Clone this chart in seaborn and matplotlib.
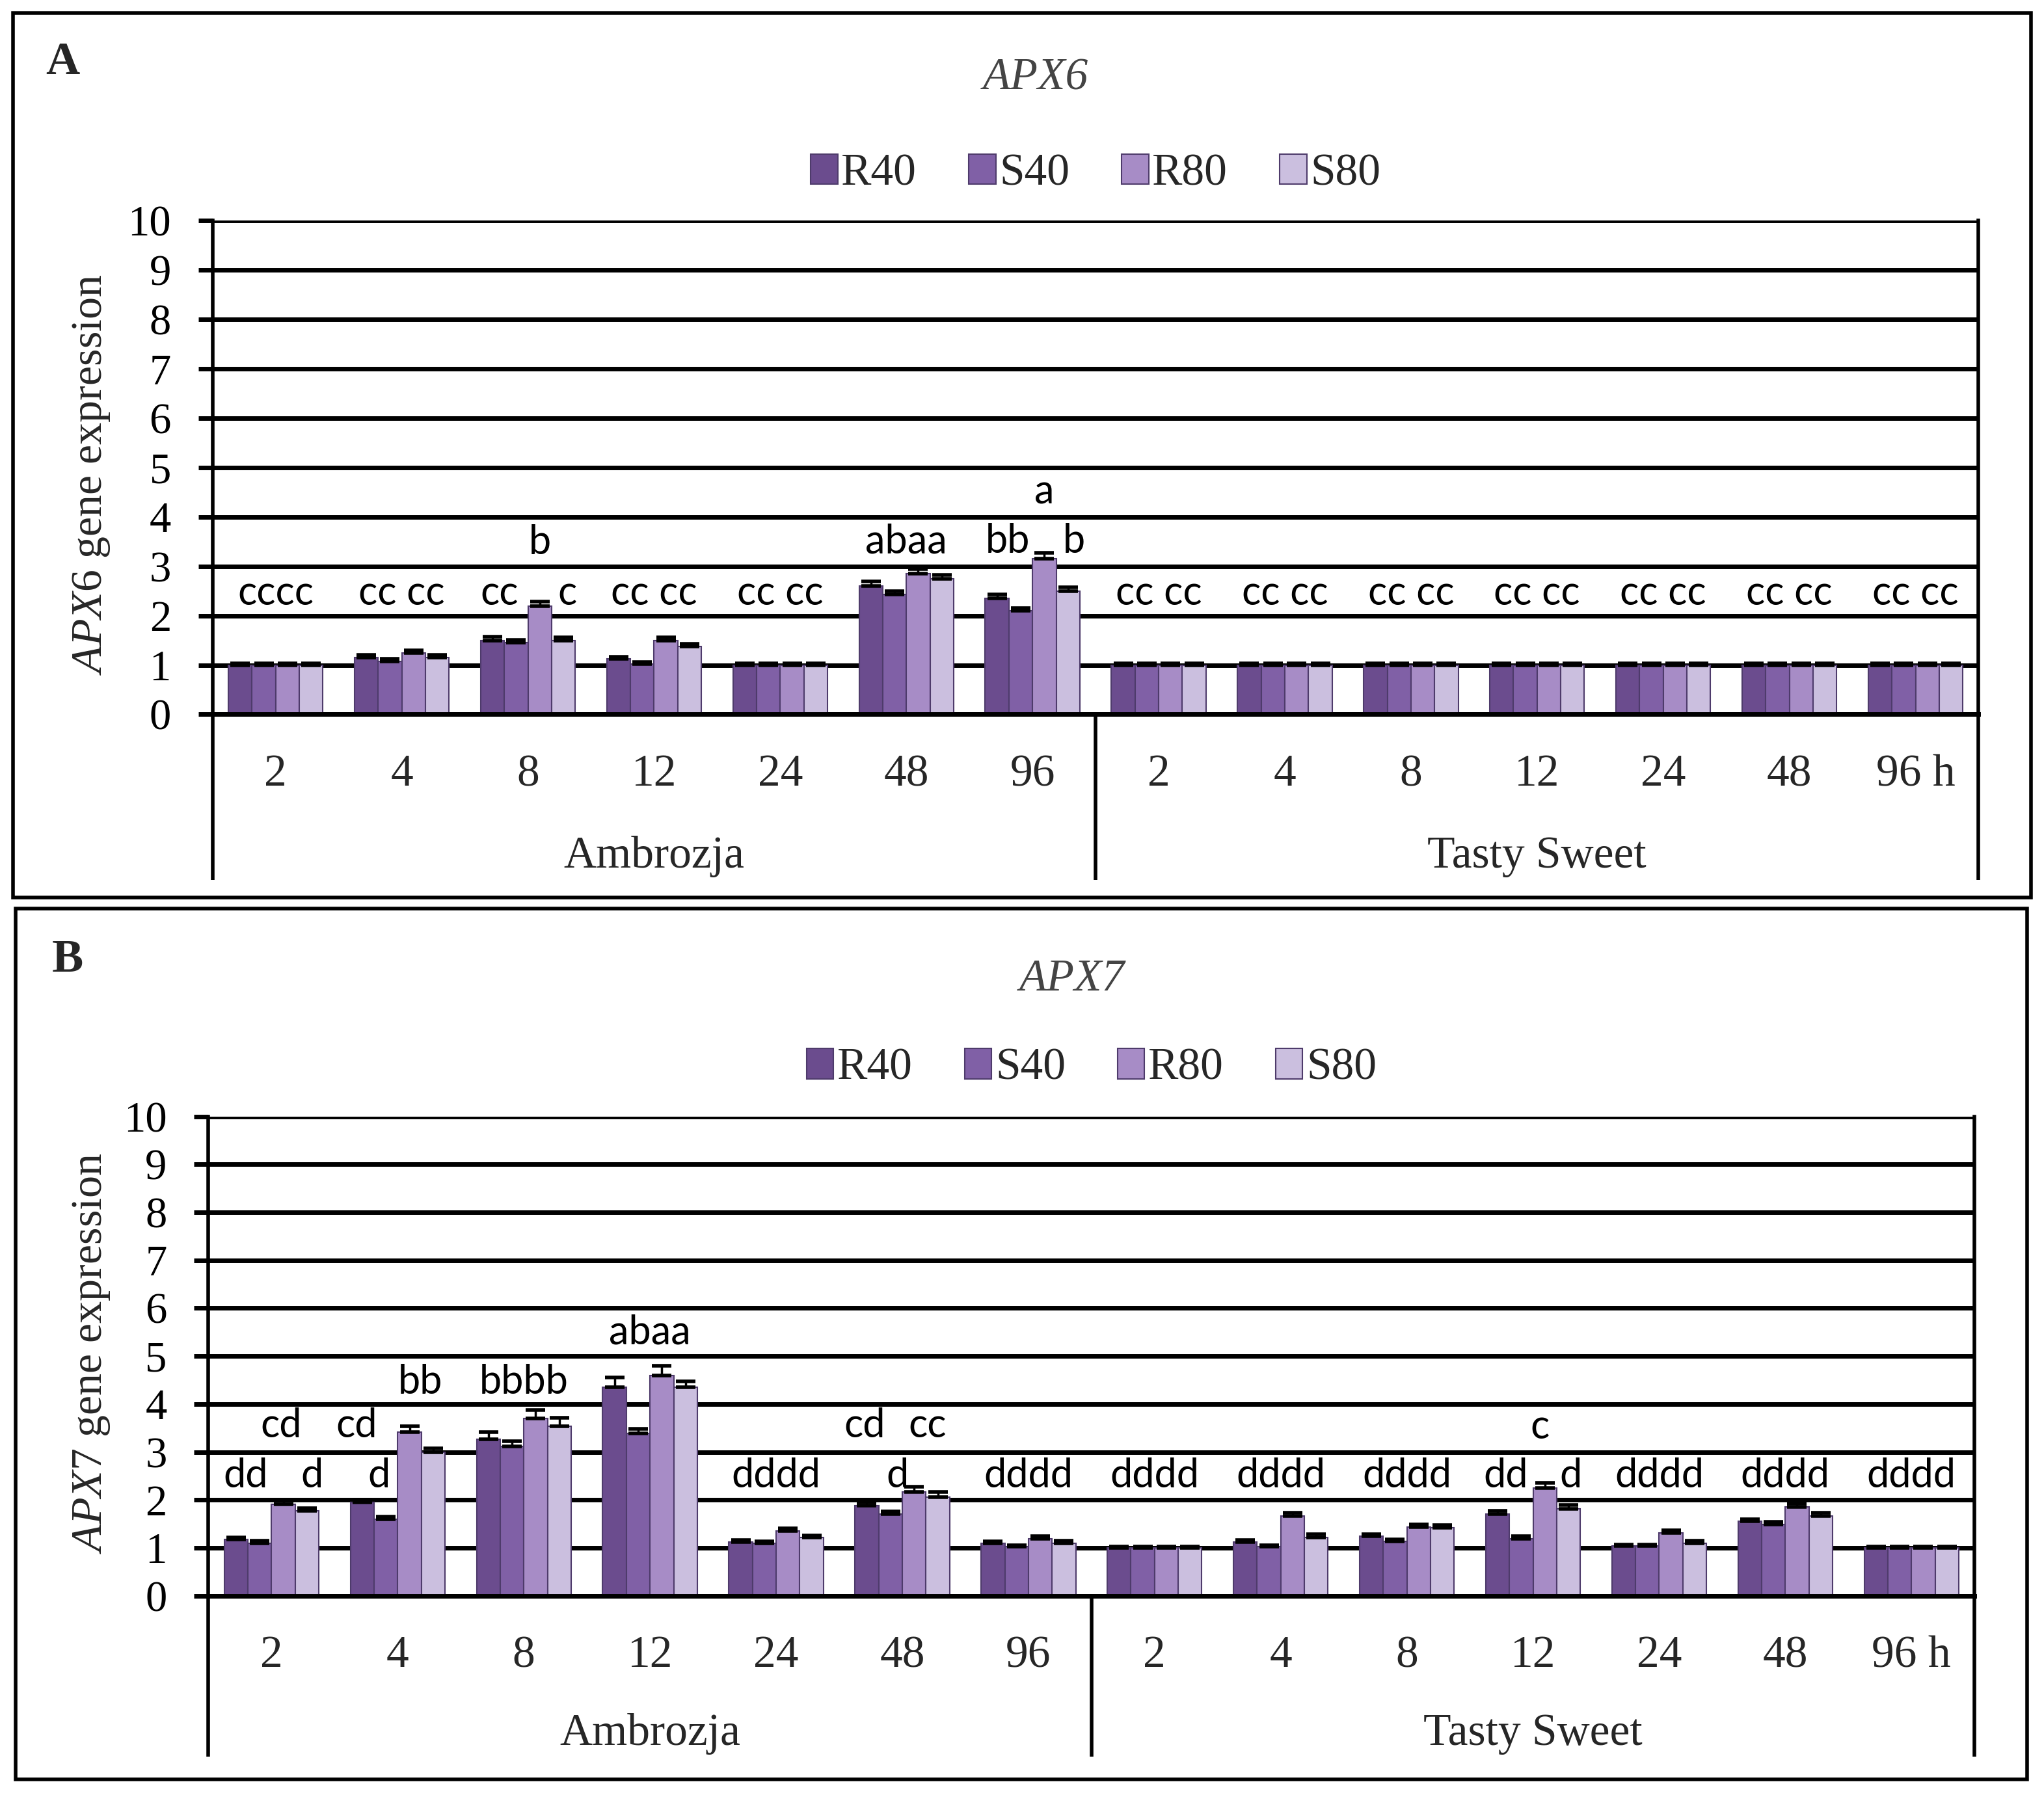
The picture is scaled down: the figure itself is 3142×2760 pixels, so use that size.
import matplotlib
matplotlib.use("Agg")
import matplotlib.pyplot as plt
import matplotlib.transforms as mtransforms
from matplotlib.patches import Rectangle
import numpy as np
import pandas as pd
import seaborn as sns

hours = ["2", "4", "8", "12", "24", "48", "96"]
cultivars = ["Ambrozja", "Tasty Sweet"]
treatments = ["R40", "S40", "R80", "S80"]
bar_colors = ["#6b4c8e", "#8060a6", "#a78cc6", "#cbbfdf"]

# values: 7 Ambrozja hours, then 7 Tasty Sweet hours
apx6_r40 = [1.0, 1.15, 1.50, 1.12, 1.0, 2.60, 2.35, 1.0, 1.0, 1.0, 1.0, 1.0, 1.0, 1.0]
apx6_s40 = [1.0, 1.08, 1.45, 1.02, 1.0, 2.43, 2.10, 1.0, 1.0, 1.0, 1.0, 1.0, 1.0, 1.0]
apx6_r80 = [1.0, 1.25, 2.20, 1.50, 1.0, 2.85, 3.15, 1.0, 1.0, 1.0, 1.0, 1.0, 1.0, 1.0]
apx6_s80 = [1.0, 1.15, 1.50, 1.38, 1.0, 2.75, 2.50, 1.0, 1.0, 1.0, 1.0, 1.0, 1.0, 1.0]
apx6_err_r40 = [0.04, 0.05, 0.07, 0.05, 0.04, 0.09, 0.08, 0.03, 0.03, 0.03, 0.03, 0.03, 0.03, 0.03]
apx6_err_s40 = [0.04, 0.04, 0.06, 0.04, 0.04, 0.07, 0.06, 0.03, 0.03, 0.03, 0.03, 0.03, 0.03, 0.03]
apx6_err_r80 = [0.04, 0.05, 0.08, 0.06, 0.04, 0.10, 0.13, 0.03, 0.03, 0.03, 0.03, 0.03, 0.03, 0.03]
apx6_err_s80 = [0.04, 0.05, 0.06, 0.05, 0.04, 0.08, 0.08, 0.03, 0.03, 0.03, 0.03, 0.03, 0.03, 0.03]

apx7_r40 = [1.17, 1.95, 3.27, 4.35, 1.12, 1.88, 1.10, 1.0, 1.12, 1.24, 1.71, 1.04, 1.55, 1.0]
apx7_s40 = [1.10, 1.59, 3.12, 3.39, 1.10, 1.70, 1.02, 1.0, 1.02, 1.13, 1.19, 1.04, 1.49, 1.0]
apx7_r80 = [1.91, 3.41, 3.70, 4.60, 1.35, 2.17, 1.19, 1.0, 1.67, 1.44, 2.25, 1.31, 1.85, 1.0]
apx7_s80 = [1.77, 3.00, 3.54, 4.35, 1.21, 2.06, 1.10, 1.0, 1.22, 1.42, 1.82, 1.10, 1.67, 1.0]
apx7_err_r40 = [0.05, 0.06, 0.15, 0.20, 0.04, 0.07, 0.04, 0.03, 0.04, 0.05, 0.06, 0.03, 0.05, 0.03]
apx7_err_s40 = [0.05, 0.06, 0.11, 0.09, 0.04, 0.06, 0.04, 0.03, 0.03, 0.05, 0.05, 0.03, 0.05, 0.03]
apx7_err_r80 = [0.06, 0.13, 0.18, 0.20, 0.05, 0.11, 0.05, 0.03, 0.06, 0.05, 0.10, 0.06, 0.07, 0.03]
apx7_err_s80 = [0.06, 0.08, 0.18, 0.12, 0.05, 0.10, 0.05, 0.03, 0.06, 0.05, 0.08, 0.05, 0.06, 0.03]

# significance letters: (slot index, text, baseline height, offset in bar widths)
apx6_letters = [
    (0, "cccc", 2.22, 0), (1, "cc cc", 2.22, 0),
    (2, "cc", 2.22, -1.2), (2, "b", 3.25, 0.5), (2, "c", 2.22, 1.65),
    (3, "cc cc", 2.22, 0), (4, "cc cc", 2.22, 0), (5, "abaa", 3.27, 0),
    (6, "bb", 3.27, -1.05), (6, "a", 4.27, 0.5), (6, "b", 3.27, 1.75),
    (7, "cc cc", 2.22, 0), (8, "cc cc", 2.22, 0), (9, "cc cc", 2.22, 0),
    (10, "cc cc", 2.22, 0), (11, "cc cc", 2.22, 0), (12, "cc cc", 2.22, 0),
    (13, "cc cc", 2.22, 0),
]
apx7_letters = [
    (0, "dd", 2.26, -1.1), (0, "cd", 3.30, 0.4), (0, "d", 2.26, 1.7),
    (1, "cd", 3.30, -1.75), (1, "d", 2.26, -0.8), (1, "bb", 4.22, 0.95),
    (2, "bbbb", 4.22, 0), (3, "abaa", 5.26, 0), (4, "dddd", 2.26, 0),
    (5, "cd", 3.30, -1.6), (5, "d", 2.26, -0.2), (5, "cc", 3.30, 1.05),
    (6, "dddd", 2.26, 0), (7, "dddd", 2.26, 0), (8, "dddd", 2.26, 0),
    (9, "dddd", 2.26, 0),
    (10, "dd", 2.26, -1.15), (10, "c", 3.28, 0.3), (10, "d", 2.26, 1.6),
    (11, "dddd", 2.26, 0), (12, "dddd", 2.26, 0), (13, "dddd", 2.26, 0),
]

sns.set_theme(style="white")
plt.rcParams["font.family"] = ["Liberation Serif", "DejaVu Serif"]
plt.rcParams["mathtext.fontset"] = "custom"
plt.rcParams["mathtext.rm"] = "Liberation Serif"
plt.rcParams["mathtext.it"] = "Liberation Serif:italic"
letter_font = ["Lato", "DejaVu Sans"]


def make_frame(series, errs):
    rows = []
    for t, vals, ers in zip(treatments, series, errs):
        for i, (v, e) in enumerate(zip(vals, ers)):
            cult = cultivars[i // len(hours)]
            rows.append({"slot": f"{cult} {hours[i % len(hours)]}", "treatment": t,
                         "value": v, "err": e})
    return pd.DataFrame(rows)


def draw_panel(ax, df, letters, gene, legend_y, title_x, title_y):
    slots = list(dict.fromkeys(df["slot"]))
    sns.barplot(data=df, x="slot", y="value", hue="treatment", order=slots,
                hue_order=treatments, palette=bar_colors, edgecolor="#4e3b6b",
                linewidth=1.5, width=0.75, errorbar=None, saturation=1, ax=ax)
    for cont, t in zip(ax.containers, treatments):
        xs = [p.get_x() + p.get_width() / 2 for p in cont]
        hs = [p.get_height() for p in cont]
        err = df.loc[df["treatment"] == t, "err"].to_numpy()
        ax.errorbar(xs, hs, yerr=[np.zeros_like(err), err], fmt="none",
                    ecolor="black", elinewidth=2.5, capsize=11, capthick=4, zorder=4)

    barw = ax.containers[0][0].get_width()
    for idx, txt, yv, off in letters:
        ax.text(idx + off * barw, yv, txt, ha="center", va="baseline",
                fontsize=44, family=letter_font, color="black")

    ax.set_ylim(0, 10)
    ax.set_yticks(range(0, 11))
    ax.set_xlim(-0.5, len(slots) - 0.5)
    ax.set_axisbelow(True)
    ax.yaxis.grid(True, color="black", linewidth=5)
    ax.xaxis.grid(False)
    for side in ["left", "right"]:
        ax.spines[side].set_color("black")
        ax.spines[side].set_linewidth(4)
    ax.spines["top"].set_visible(False)
    ax.spines["bottom"].set_color("black")
    ax.spines["bottom"].set_linewidth(5)
    ax.tick_params(axis="y", direction="out", length=16, width=5, pad=30,
                   labelsize=48, left=True, colors="black")
    ax.tick_params(axis="x", length=0, pad=44, labelsize=50)
    ticklabels = hours + hours[:-1] + [hours[-1] + " h"]
    ax.set_xticks(range(len(slots)))
    ax.set_xticklabels(ticklabels)
    ax.set_xlabel("")
    ax.set_ylabel("")

    trans = mtransforms.blended_transform_factory(ax.transData, ax.transAxes)
    for xv in [-0.5, len(hours) - 0.5, len(slots) - 0.5]:
        ax.plot([xv, xv], [0, -0.335], transform=trans, color="black",
                linewidth=4, clip_on=False, solid_capstyle="butt")
    for k, cult in enumerate(cultivars):
        ax.text(k * len(hours) + (len(hours) - 1) / 2, -0.288, cult, transform=trans,
                ha="center", va="center", fontsize=50)

    sns.move_legend(ax, "center", bbox_to_anchor=(0.5, legend_y), ncol=4,
                    frameon=False, title=None, fontsize=50, handlelength=0.6,
                    handleheight=0.65, handletextpad=0.08, columnspacing=1.15)
    ax.text(title_x, title_y, gene, transform=ax.transAxes, ha="center",
            va="center", fontsize=50, style="italic", color="#444444")


fig = plt.figure(figsize=(31.42, 27.6), dpi=100)
axA = fig.add_axes([0.104, 0.602, 0.864, 0.275])
axB = fig.add_axes([0.102, 0.111, 0.864, 0.267])

dfA = make_frame([apx6_r40, apx6_s40, apx6_r80, apx6_s80],
                 [apx6_err_r40, apx6_err_s40, apx6_err_r80, apx6_err_s80])
dfB = make_frame([apx7_r40, apx7_s40, apx7_r80, apx7_s80],
                 [apx7_err_r40, apx7_err_s40, apx7_err_r80, apx7_err_s80])

draw_panel(axA, dfA, apx6_letters, "APX6", 1.095, 0.466, 1.288)
draw_panel(axB, dfB, apx7_letters, "APX7", 1.1, 0.489, 1.285)

fig.text(0.0446, 0.7355, r"$\mathit{APX6}$ gene expression", rotation=90,
         ha="center", va="center", fontsize=49)
fig.text(0.0446, 0.246, r"$\mathit{APX7}$ gene expression", rotation=90,
         ha="center", va="center", fontsize=49)
fig.text(0.0306, 0.965, "A", ha="center", va="center", fontsize=52, weight="bold")
fig.text(0.033, 0.465, "B", ha="center", va="center", fontsize=52, weight="bold")

fig.patches.append(Rectangle((0.0064, 0.5), 0.9872, 0.4928, transform=fig.transFigure,
                             fill=False, edgecolor="black", linewidth=4))
fig.patches.append(Rectangle((0.0077, 0.0087), 0.984, 0.4853, transform=fig.transFigure,
                             fill=False, edgecolor="black", linewidth=4))

fig.savefig("out.png", dpi=100)
